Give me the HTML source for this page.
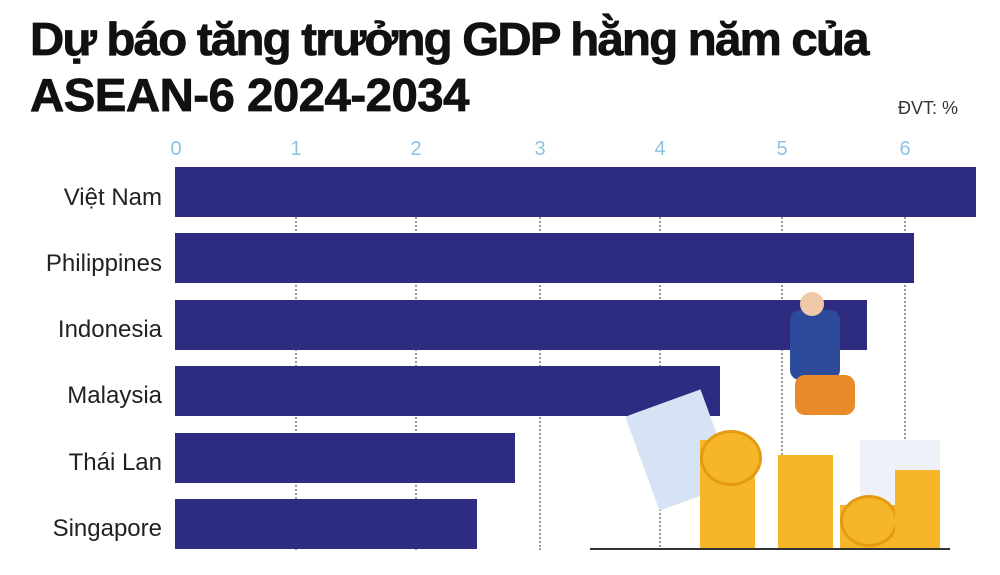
<!DOCTYPE html>
<html><head><meta charset="utf-8"><style>
body{margin:0;width:1000px;height:575px;background:#fff;overflow:hidden;position:relative;font-family:"Liberation Sans",sans-serif}
.t{position:absolute;left:30px;font-weight:bold;font-size:46px;color:#111;letter-spacing:-0.5px;transform:scaleX(1.03);transform-origin:left top;white-space:nowrap;-webkit-text-stroke:0.8px #111}
.tick{position:absolute;top:138px;font-size:20px;color:#8cc3e3;transform:translateX(-50%)}
.g{position:absolute;top:170px;height:380px;border-left:2px dotted #999}
.bar{position:absolute;left:175px;height:50px;background:#2e2c80}
.lab{position:absolute;right:838px;font-size:24px;color:#222;white-space:nowrap}
.c{position:absolute;border-radius:50%;background:#f5b62a;border:3px solid #e49a12}
</style></head><body>
<div class="t" style="top:12px;letter-spacing:-1.7px">Dự báo tăng trưởng GDP hằng năm của</div>
<div class="t" style="top:68px">ASEAN-6 2024-2034</div>
<div style="position:absolute;left:898px;top:98px;font-size:18px;color:#333">ĐVT: %</div>
<div class="tick" style="left:176px">0</div><div class="tick" style="left:296px">1</div><div class="tick" style="left:416px">2</div><div class="tick" style="left:540px">3</div><div class="tick" style="left:660px">4</div><div class="tick" style="left:782px">5</div><div class="tick" style="left:905px">6</div>
<div class="g" style="left:295px"></div><div class="g" style="left:415px"></div><div class="g" style="left:539px"></div><div class="g" style="left:659px"></div><div class="g" style="left:781px"></div><div class="g" style="left:904px"></div>
<div class="bar" style="top:167px;width:801px"></div>
<div class="bar" style="top:233px;width:739px"></div>
<div class="bar" style="top:300px;width:692px"></div>
<div class="bar" style="top:366px;width:545px"></div>
<div class="bar" style="top:433px;width:340px"></div>
<div class="bar" style="top:499px;width:302px"></div>
<div class="lab" style="top:184px">Việt Nam</div>
<div class="lab" style="top:250px">Philippines</div>
<div class="lab" style="top:316px">Indonesia</div>
<div class="lab" style="top:382px">Malaysia</div>
<div class="lab" style="top:449px">Thái Lan</div>
<div class="lab" style="top:515px">Singapore</div>
<div style="position:absolute;left:640px;top:400px;width:80px;height:100px;background:#d6e3f5;transform:rotate(-20deg)"></div>
<div style="position:absolute;left:860px;top:440px;width:80px;height:100px;background:#eef2f8"></div>
<div style="position:absolute;left:700px;top:440px;width:55px;height:110px;background:#f5b62a"></div>
<div class="c" style="left:700px;top:430px;width:56px;height:50px"></div>
<div style="position:absolute;left:778px;top:455px;width:55px;height:95px;background:#f5b62a"></div>
<div style="position:absolute;left:840px;top:505px;width:55px;height:45px;background:#f5b62a"></div>
<div class="c" style="left:840px;top:495px;width:52px;height:46px"></div>
<div style="position:absolute;left:895px;top:470px;width:45px;height:80px;background:#f5b62a"></div>
<div style="position:absolute;left:590px;top:548px;width:360px;height:2px;background:#333"></div>
<div style="position:absolute;left:790px;top:310px;width:50px;height:70px;background:#2e4a9a;border-radius:10px"></div>
<div style="position:absolute;left:795px;top:375px;width:60px;height:40px;background:#e88a2a;border-radius:10px"></div>
<div style="position:absolute;left:800px;top:292px;width:24px;height:24px;background:#f0c9a8;border-radius:50%"></div>
</body></html>
